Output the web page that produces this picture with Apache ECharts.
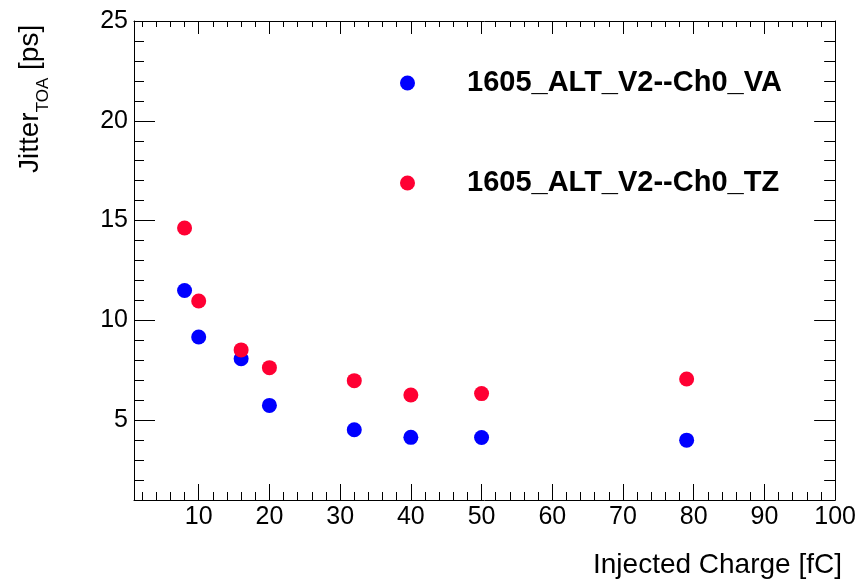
<!DOCTYPE html>
<html>
<head>
<meta charset="utf-8">
<script src="https://cdn.jsdelivr.net/npm/echarts@6/dist/echarts.min.js"></script>
<style>
html,body{margin:0;padding:0;background:#fff;}
#chart{width:859px;height:585px;}
</style>
</head>
<body>
<div id="chart"></div>
<script>
// ---- data ----
var charge = [8, 10, 16, 20, 32, 40, 50, 79];
var jitterVA = [11.5, 9.17, 8.08, 5.74, 4.52, 4.14, 4.13, 4.0];
var jitterTZ = [14.63, 10.97, 8.52, 7.63, 6.98, 6.26, 6.33, 7.06];
var seriesNames = ['1605_ALT_V2--Ch0_VA', '1605_ALT_V2--Ch0_TZ'];
var xMajor = [10, 20, 30, 40, 50, 60, 70, 80, 90, 100];
var xMinor = [2, 4, 6, 8, 12, 14, 16, 18, 22, 24, 26, 28, 32, 34, 36, 38, 42, 44, 46, 48, 52, 54, 56, 58, 62, 64, 66, 68, 72, 74, 76, 78, 82, 84, 86, 88, 92, 94, 96, 98];
var yMajor = [5, 10, 15, 20, 25];
var yMinor = [2, 3, 4, 6, 7, 8, 9, 11, 12, 13, 14, 16, 17, 18, 19, 21, 22, 23, 24];
var xTitle = 'Injected Charge [fC]';
var yTitleMain = 'Jitter', yTitleSub = 'TOA', yTitleUnit = ' [ps]';

var X_MIN = 0.85, X_MAX = 100, Y_MIN = 1, Y_MAX = 25;
var FONT = 'Liberation Sans';

function pair(xs, ys) { return xs.map(function (x, i) { return [x, ys[i]]; }); }

function xAx(pos, ticks, len, showLine, showLabel) {
  return {
    type: 'value', position: pos, min: X_MIN, max: X_MAX,
    axisLine: { show: showLine, onZero: false, lineStyle: { color: '#000', width: 1 } },
    axisTick: { show: true, inside: true, length: len, customValues: ticks, lineStyle: { color: '#000', width: 1 } },
    axisLabel: showLabel ? { show: true, customValues: ticks, fontSize: 25, fontFamily: FONT, color: '#000', margin: 5, showMaxLabel: true, showMinLabel: true } : { show: false },
    splitLine: { show: false }
  };
}
function yAx(pos, ticks, len, showLine, showLabel) {
  return {
    type: 'value', position: pos, min: Y_MIN, max: Y_MAX,
    axisLine: { show: showLine, onZero: false, lineStyle: { color: '#000', width: 1 } },
    axisTick: { show: true, inside: true, length: len, customValues: ticks, lineStyle: { color: '#000', width: 1 } },
    axisLabel: showLabel ? { show: true, customValues: ticks, fontSize: 25, fontFamily: FONT, color: '#000', margin: 6, showMaxLabel: true, showMinLabel: true } : { show: false },
    splitLine: { show: false }
  };
}

var chart = echarts.init(document.getElementById('chart'), null, { renderer: 'canvas' });
chart.setOption({
  animation: false,
  backgroundColor: '#fff',
  grid: { left: 134, right: 21, top: 21, bottom: 85, containLabel: false },
  xAxis: [
    xAx('bottom', xMajor, 16, true, true),
    xAx('bottom', xMinor, 8, false, false),
    xAx('top', xMajor, 13, true, false),
    xAx('top', xMinor, 6, false, false)
  ],
  yAxis: [
    yAx('left', yMajor, 21, true, true),
    yAx('left', yMinor, 10, false, false),
    yAx('right', yMajor, 21, true, false),
    yAx('right', yMinor, 11, false, false)
  ],
  legend: {
    orient: 'vertical', left: 395, top: 63,
    data: seriesNames,
    icon: 'circle', itemWidth: 15, itemHeight: 15, itemGap: 70,
    textStyle: { fontSize: 29, fontWeight: 'bold', fontFamily: FONT, color: '#000', lineHeight: 30, padding: [0, 0, 0, 47] }
  },
  graphic: [
    {
      type: 'text', x: 842, y: 565,
      style: { text: xTitle, fontSize: 28, fontFamily: FONT, fill: '#000', align: 'right', textAlign: 'right', verticalAlign: 'middle', textVerticalAlign: 'middle' }
    },
    {
      type: 'text', x: 8, y: 173, rotation: Math.PI / 2,
      style: {
        text: '{a|' + yTitleMain + '}{b|' + yTitleSub + '}{a|' + yTitleUnit + '}',
        align: 'left', textAlign: 'left', verticalAlign: 'top', textVerticalAlign: 'top',
        rich: {
          a: { fontSize: 28, fontFamily: FONT, fill: '#000', color: '#000', lineHeight: 44, verticalAlign: 'middle' },
          b: { fontSize: 17, fontFamily: FONT, fill: '#000', color: '#000', lineHeight: 17, verticalAlign: 'bottom' }
        }
      }
    }
  ],
  series: [
    {
      name: seriesNames[0], type: 'scatter', data: pair(charge, jitterVA),
      symbol: 'circle', symbolSize: 15, itemStyle: { color: '#0000ff', opacity: 1 }, z: 2
    },
    {
      name: seriesNames[1], type: 'scatter', data: pair(charge, jitterTZ),
      symbol: 'circle', symbolSize: 15, itemStyle: { color: '#ff0033', opacity: 1 }, z: 3
    }
  ]
});
</script>
</body>
</html>
